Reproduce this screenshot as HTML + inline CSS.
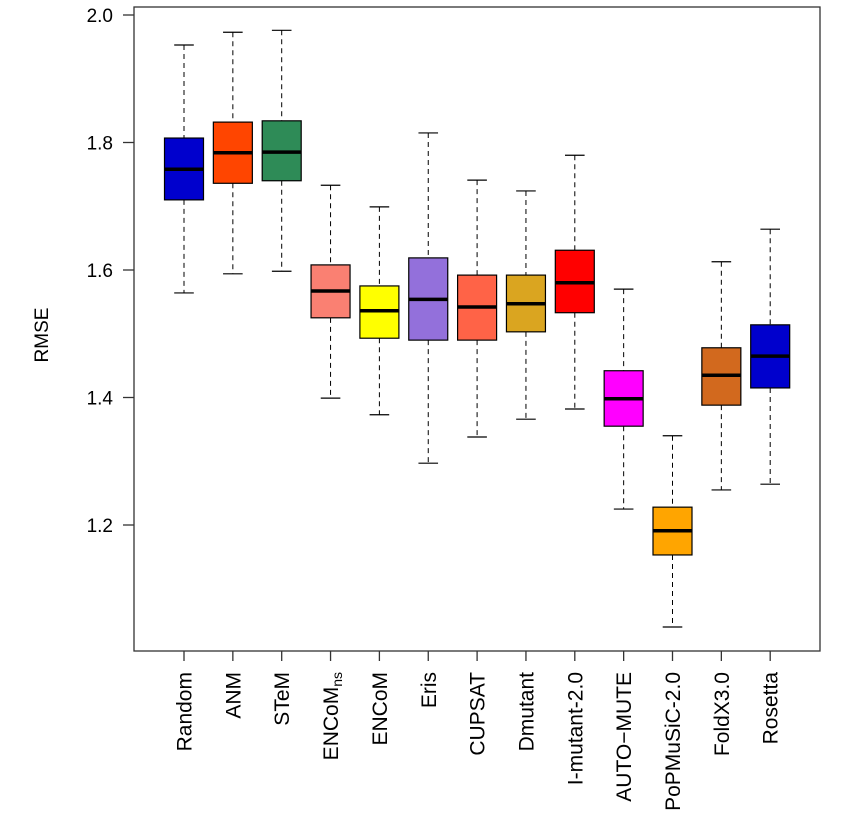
<!DOCTYPE html>
<html><head><meta charset="utf-8"><style>
body{margin:0;background:#fff}
svg text{font-family:"Liberation Sans",Arial,sans-serif;fill:#000}
</style></head><body>
<svg id="chart" width="859" height="825" viewBox="0 0 859 825" xmlns="http://www.w3.org/2000/svg">
<rect x="134" y="7" width="686" height="644" fill="none" stroke="#333" stroke-width="1.3"/>
<text transform="translate(48,335) rotate(-90)" text-anchor="middle" font-size="19">RMSE</text>
<g id="marks"></g>
</svg>
<script>
const categories=["Random","ANM","STeM","ENCoMns","ENCoM","Eris","CUPSAT","Dmutant","I-mutant-2.0","AUTO\u2212MUTE","PoPMuSiC-2.0","FoldX3.0","Rosetta"];
const whiskerHigh=[1.953,1.973,1.976,1.733,1.699,1.815,1.741,1.724,1.780,1.570,1.340,1.613,1.664];
const q3=[1.807,1.832,1.834,1.608,1.575,1.619,1.592,1.592,1.631,1.442,1.228,1.478,1.514];
const medians=[1.758,1.784,1.785,1.567,1.536,1.554,1.542,1.547,1.580,1.398,1.191,1.435,1.465];
const q1=[1.710,1.736,1.740,1.525,1.493,1.490,1.490,1.503,1.533,1.355,1.153,1.388,1.415];
const whiskerLow=[1.564,1.594,1.598,1.399,1.373,1.297,1.338,1.366,1.382,1.225,1.040,1.255,1.264];
const colors=["#0000CD","#FF4500","#2E8B57","#FA8072","#FFFF00","#9370DB","#FF6347","#DAA520","#FF0000","#FF00FF","#FFA500","#D2691E","#0000CD"];
const yTicks=[1.2,1.4,1.6,1.8,2.0];
const yTickLabels=["1.2","1.4","1.6","1.8","2.0"];

const NS="http://www.w3.org/2000/svg";
const g=document.getElementById('marks');
function y(v){return 15+(2.0-v)*637.5;}
function x(i){return 184+i*48.85;}
function mk(tag,attrs){const e=document.createElementNS(NS,tag);for(const k in attrs)e.setAttribute(k,attrs[k]);g.appendChild(e);return e;}

yTicks.forEach((t,i)=>{
  const l=mk('line',{x1:123,x2:134,y1:y(t),y2:y(t),stroke:'#333','stroke-width':1.3});
  
  
  const tx=mk('text',{x:113,y:y(t)+7,'text-anchor':'end','font-size':19});
  tx.textContent=yTickLabels[i];
  
  
});

const hw=19.5, cw=9.8;
categories.forEach((c,i)=>{
  const cx=x(i);
  const w1=mk('line',{x1:cx,x2:cx,y1:y(whiskerHigh[i]),y2:y(q3[i]),stroke:'#000','stroke-dasharray':'5,4','stroke-width':1});
  
  
  const w2=mk('line',{x1:cx,x2:cx,y1:y(q1[i]),y2:y(whiskerLow[i]),stroke:'#000','stroke-dasharray':'5,4','stroke-width':1});
  
  
  const c1=mk('line',{x1:cx-cw,x2:cx+cw,y1:y(whiskerHigh[i]),y2:y(whiskerHigh[i]),stroke:'#000','stroke-width':1.2});
  
  
  const c2=mk('line',{x1:cx-cw,x2:cx+cw,y1:y(whiskerLow[i]),y2:y(whiskerLow[i]),stroke:'#000','stroke-width':1.2});
  
  
  const b=mk('rect',{x:cx-hw,y:y(q3[i]),width:hw*2,height:y(q1[i])-y(q3[i]),fill:colors[i],stroke:'#000','stroke-width':1.2});
  
  
  const m=mk('line',{x1:cx-hw,x2:cx+hw,y1:y(medians[i]),y2:y(medians[i]),stroke:'#000','stroke-width':3.5});
  
  
  const t=mk('line',{x1:cx,x2:cx,y1:651,y2:661,stroke:'#333','stroke-width':1.3});
  
  
  const tx=mk('text',{transform:`translate(${cx+7.5},672) rotate(-90)`,'text-anchor':'end','font-size':21});
  if(c==="ENCoMns"){
    tx.textContent="ENCoM";
    const s=document.createElementNS(NS,'tspan');
    s.setAttribute('font-size','14');s.setAttribute('dy','4');
    s.textContent="ns";tx.appendChild(s);
  } else tx.textContent=c;
  
  
});
</script>
</body></html>
